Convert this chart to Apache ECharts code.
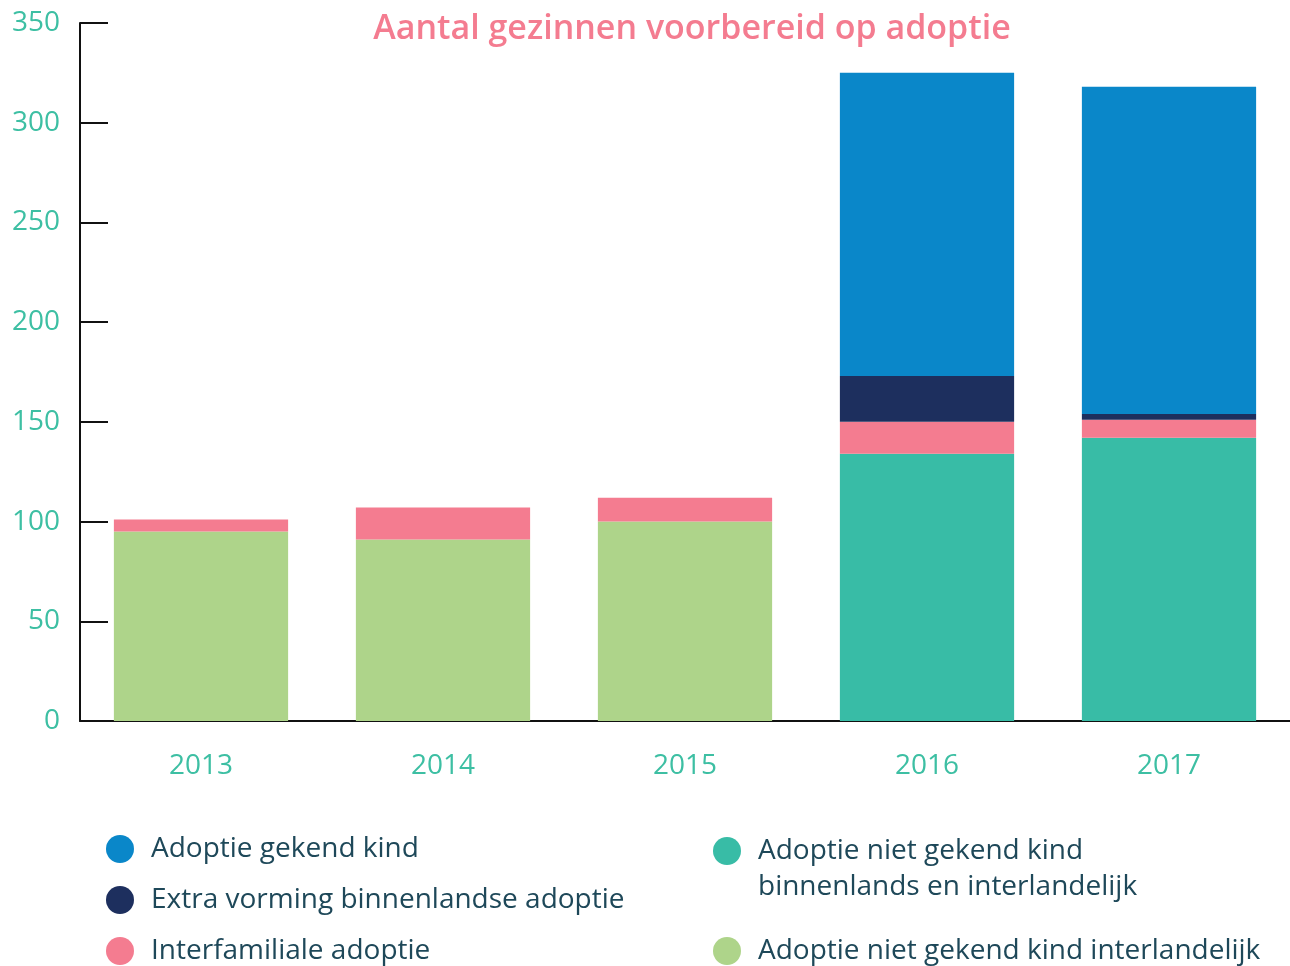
<!DOCTYPE html>
<html><head><meta charset="utf-8">
<script src="https://cdn.jsdelivr.net/npm/echarts@6/dist/echarts.min.js"></script>
<style>html,body{margin:0;padding:0;background:#fff}#c{width:1290px;height:966px}</style>
</head><body><div id="c"></div>
<script>
const categories = ['2013','2014','2015','2016','2017'];
const yTicks = [0,50,100,150,200,250,300,350];
const interlandelijk = [95, 91, 100, 0, 0];
const nietGekendBinnen = [0, 0, 0, 134, 142];
const interfamiliaal = [6, 16, 12, 16, 9];
const extraVorming = [0, 0, 0, 23, 3];
const gekendKind = [0, 0, 0, 152, 164];

const names = {
  blue: 'Adoptie gekend kind',
  navy: 'Extra vorming binnenlandse adoptie',
  pink: 'Interfamiliale adoptie',
  teal: 'Adoptie niet gekend kind\nbinnenlands en interlandelijk',
  green: 'Adoptie niet gekend kind interlandelijk'
};
const colors = {blue:'#0a87c9', navy:'#1d2f5e', pink:'#f47c90', teal:'#38bca6', green:'#aed48a'};
const font = '"Open Sans", Roboto, sans-serif';
const teal = '#3dbfa3';
const legText = {fontSize:28, color:'#1e4859', fontFamily:font, padding:[0,0,0,12]};

function bar(name, data, color) {
  return {name, type:'bar', stack:'a', data, barWidth:'72%', itemStyle:{color}, emphasis:{disabled:true}};
}
function leg(name, left, top, extra) {
  return Object.assign({
    data:[name], left, top, icon:'circle', itemWidth:28, itemHeight:28, itemGap:0,
    padding:0, selectedMode:false, textStyle:legText
  }, extra||{});
}
const chart = echarts.init(document.getElementById('c'), null, {renderer:'canvas'});
chart.setOption({
  animation:false,
  title:{text:'Aantal gezinnen voorbereid op adoptie', left:687, textAlign:'center', top:7,
    textStyle:{color:'#f47c90', fontSize:34, fontWeight:600, fontFamily:font}},
  grid:{left:80, right:0, top:23, bottom:245},
  xAxis:{type:'category', data:categories,
    axisLine:{lineStyle:{color:'#111', width:2}},
    axisTick:{inside:true, length:17, lineStyle:{color:'#111', width:2}},
    axisLabel:{color:teal, fontSize:28, fontFamily:font, margin:31}},
  yAxis:{type:'value', min:yTicks[0], max:yTicks[yTicks.length-1], interval:50,
    axisLine:{show:true, lineStyle:{color:'#111', width:2}},
    axisTick:{show:true, inside:true, length:28, lineStyle:{color:'#111', width:2}},
    splitLine:{show:false},
    axisLabel:{color:teal, fontSize:28, fontFamily:font, margin:20}},
  legend:[
    leg(names.blue, 106, 835),
    leg(names.navy, 106, 886),
    leg(names.pink, 106, 937),
    leg(names.teal, 713, 797, {formatter: n => '\n' + n,
      textStyle:Object.assign({}, legText, {lineHeight:36})}),
    leg(names.green, 713, 937)
  ],
  series:[
    bar(names.green, interlandelijk, colors.green),
    bar(names.teal, nietGekendBinnen, colors.teal),
    bar(names.pink, interfamiliaal, colors.pink),
    bar(names.navy, extraVorming, colors.navy),
    bar(names.blue, gekendKind, colors.blue)
  ]
});
</script></body></html>
